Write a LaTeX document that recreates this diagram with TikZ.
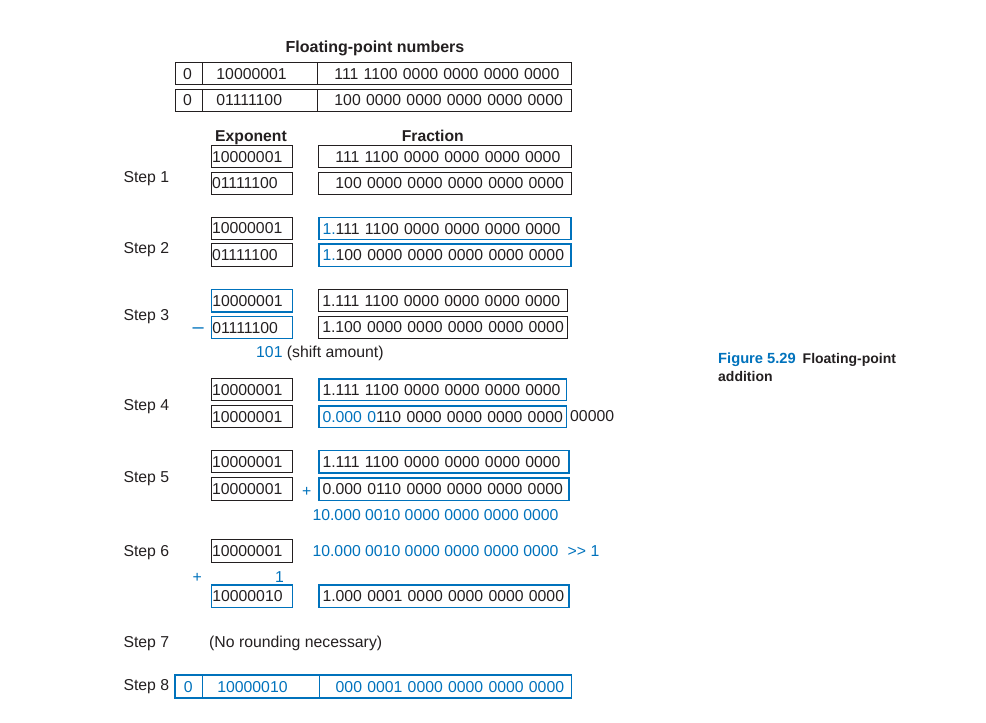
\documentclass[tikz,border=0pt]{standalone}
\usepackage{fontspec}
\setmainfont{Liberation Sans}
\definecolor{fblue}{RGB}{0,114,188}
\definecolor{ink}{RGB}{35,31,32}
\newcommand\bodyfont{\fontsize{15.8}{19}\selectfont}
\newcommand\hdrfont{\fontsize{15.7}{19}\selectfont\bfseries}
\newcommand\titlefont{\fontsize{16}{19}\selectfont\bfseries}
\newcommand\capfont{\fontsize{14}{17}\selectfont\bfseries}
\newcommand\bl[1]{\textcolor{fblue}{#1}}
\begin{document}
\begin{tikzpicture}[x=1pt,y=-1pt,
  cell/.style={draw=ink, line width=0.9pt, anchor=north west, inner xsep=0pt, inner ysep=0pt,
    minimum height=22.3pt, text height=11.3pt, text depth=0pt, align=left, font=\bodyfont, text=ink},
  bcell/.style={cell, draw=fblue, line width=1.4pt},
  txt/.style={anchor=west, inner sep=0pt, text height=11.3pt, text depth=0pt, font=\bodyfont, text=ink},
  btxt/.style={txt, text=fblue},
  hdr/.style={inner sep=0pt, text height=11.3pt, text depth=0pt, font=\hdrfont, text=ink},
  captxt/.style={anchor=west, inner sep=0pt, text height=10pt, text depth=0pt, font=\capfont, text=ink},
]
\useasboundingbox (0,0) rectangle (986,723);

% title and input numbers
\node[hdr, font=\titlefont] (title) at (375,47) {Floating-point numbers};
\node[cell, minimum height=21.7pt, text width=26.7pt] (t1s) at (175,62.3) {\hspace*{7.6pt}0};
\node[cell, minimum height=21.7pt, text width=115pt] (t1e) at (201.7,62.3) {\hspace*{14.3pt}10000001};
\node[cell, minimum height=21.7pt, text width=254.3pt] (t1f) at (316.7,62.3) {\hspace*{17.3pt}111 1100 0000 0000 0000 0000};
\node[cell, minimum height=21.7pt, text width=26.7pt] (t2s) at (175,89) {\hspace*{7.6pt}0};
\node[cell, minimum height=21.7pt, text width=115pt] (t2e) at (201.7,89) {\hspace*{14.3pt}01111100};
\node[cell, minimum height=21.7pt, text width=254.3pt] (t2f) at (316.7,89) {\hspace*{17.3pt}100 0000 0000 0000 0000 0000};

% headers
\node[hdr] (hexp) at (251,135.5) {Exponent};
\node[hdr] (hfrac) at (432.8,135.5) {Fraction};

% Step 1
\node[txt] (st1) at (123.3,176.7) {Step 1};
\node[cell, text width=81pt] (s1e1) at (210.7,145) {\hspace*{0.9pt}10000001};
\node[cell, text width=81pt] (s1e2) at (210.7,171.7) {\hspace*{0.9pt}01111100};
\node[cell, text width=252.7pt] (s1f1) at (318.3,145) {\hspace*{16.7pt}111 1100 0000 0000 0000 0000};
\node[cell, text width=252.7pt] (s1f2) at (318.3,171.7) {\hspace*{16.7pt}100 0000 0000 0000 0000 0000};

% Step 2
\node[txt] (st2) at (123.3,248.3) {Step 2};
\node[cell, text width=81pt] (s2e1) at (210.7,216.7) {\hspace*{0.9pt}10000001};
\node[cell, text width=81pt] (s2e2) at (210.7,243.3) {\hspace*{0.9pt}01111100};
\node[bcell, text width=252pt] (s2f1) at (318.3,216.7) {\hspace*{3.5pt}\bl{1.}111 1100 0000 0000 0000 0000};
\node[bcell, text width=252pt] (s2f2) at (318.3,243.3) {\hspace*{3.5pt}\bl{1.}100 0000 0000 0000 0000 0000};

% Step 3
\node[txt] (st3) at (123.3,314.7) {Step 3};
\node[bcell, text width=81pt] (s3e1) at (210.7,289) {\hspace*{0.9pt}10000001};
\node[bcell, text width=81pt] (s3e2) at (210.7,315.7) {\hspace*{0.9pt}01111100};
\node[cell, text width=249pt] (s3f1) at (318.3,289) {\hspace*{3.5pt}1.111 1100 0000 0000 0000 0000};
\node[cell, text width=249pt] (s3f2) at (318.3,315.7) {\hspace*{3.5pt}1.100 0000 0000 0000 0000 0000};
\node[btxt, anchor=center, font=\fontsize{20}{22}\selectfont] (minus) at (198.3,327.6) {–};
\node[txt] (shift) at (256,352) {\bl{101} (shift amount)};

% Step 4
\node[txt] (st4) at (123.3,405.3) {Step 4};
\node[cell, minimum height=21.7pt, text width=81pt] (s4e1) at (210.7,378.3) {\hspace*{0.9pt}10000001};
\node[cell, minimum height=21.7pt, text width=81pt] (s4e2) at (210.7,405.3) {\hspace*{0.9pt}10000001};
\node[bcell, minimum height=21.7pt, text width=247.7pt] (s4f1) at (318.3,378.3) {\hspace*{3.5pt}1.111 1100 0000 0000 0000 0000};
\node[bcell, minimum height=21.7pt, text width=247.7pt] (s4f2) at (318.3,405.3) {\hspace*{3.5pt}\bl{0.000 0}110 0000 0000 0000 0000};
\node[txt] (rest) at (570,416) {00000};

% Step 5
\node[txt] (st5) at (123.3,477) {Step 5};
\node[cell, text width=81pt] (s5e1) at (210.7,450) {\hspace*{0.9pt}10000001};
\node[cell, text width=81pt] (s5e2) at (210.7,477.3) {\hspace*{0.9pt}10000001};
\node[bcell, text width=250pt] (s5f1) at (318.3,450) {\hspace*{3.5pt}1.111 1100 0000 0000 0000 0000};
\node[bcell, text width=250pt] (s5f2) at (318.3,477.3) {\hspace*{3.5pt}0.000 0110 0000 0000 0000 0000};
\node[btxt, anchor=center] (plus5) at (306.7,491) {+};
\node[btxt] (sum5) at (312.3,515) {10.000 0010 0000 0000 0000 0000};

% Step 6
\node[txt] (st6) at (123.3,551) {Step 6};
\node[cell, minimum height=23pt, text width=81pt] (s6e1) at (210.7,539.3) {\hspace*{0.9pt}10000001};
\node[btxt] (sum6) at (312.3,550.7) {10.000 0010 0000 0000 0000 0000};
\node[btxt] (shr) at (567.5,550.7) {>{}> 1};
\node[btxt, anchor=center] (plus6) at (197.2,576.7) {+};
\node[btxt, anchor=center] (one6) at (279.6,576.5) {1};
\node[bcell, text width=81pt] (s6e2) at (210.7,584.3) {\hspace*{0.9pt}10000010};
\node[bcell, text width=250pt] (s6f2) at (318.3,584.3) {\hspace*{3.5pt}1.000 0001 0000 0000 0000 0000};

% Step 7
\node[txt] (st7) at (123.3,641.7) {Step 7};
\node[txt] (noround) at (209,641.7) {(No rounding necessary)};

% Step 8
\node[txt] (st8) at (123.3,684.5) {Step 8};
\node[bcell, minimum height=23pt, text width=27.4pt, text=fblue] (r8s) at (174.3,674.3) {\hspace*{8.8pt}0};
\node[bcell, minimum height=23pt, text width=117.3pt, text=fblue] (r8e) at (201.7,674.3) {\hspace*{14.9pt}10000010};
\node[bcell, minimum height=23pt, text width=251.7pt, text=fblue] (r8f) at (319,674.3) {\hspace*{16pt}000 0001 0000 0000 0000 0000};

% caption
\node[captxt, text=fblue, font=\fontsize{14.7}{17}\selectfont\bfseries] (cap1) at (718,358.3) {Figure 5.29};
\node[captxt] (cap2) at (802.5,358.3) {Floating-point};
\node[captxt] (cap3) at (718,376.5) {addition};
\end{tikzpicture}
\end{document}
